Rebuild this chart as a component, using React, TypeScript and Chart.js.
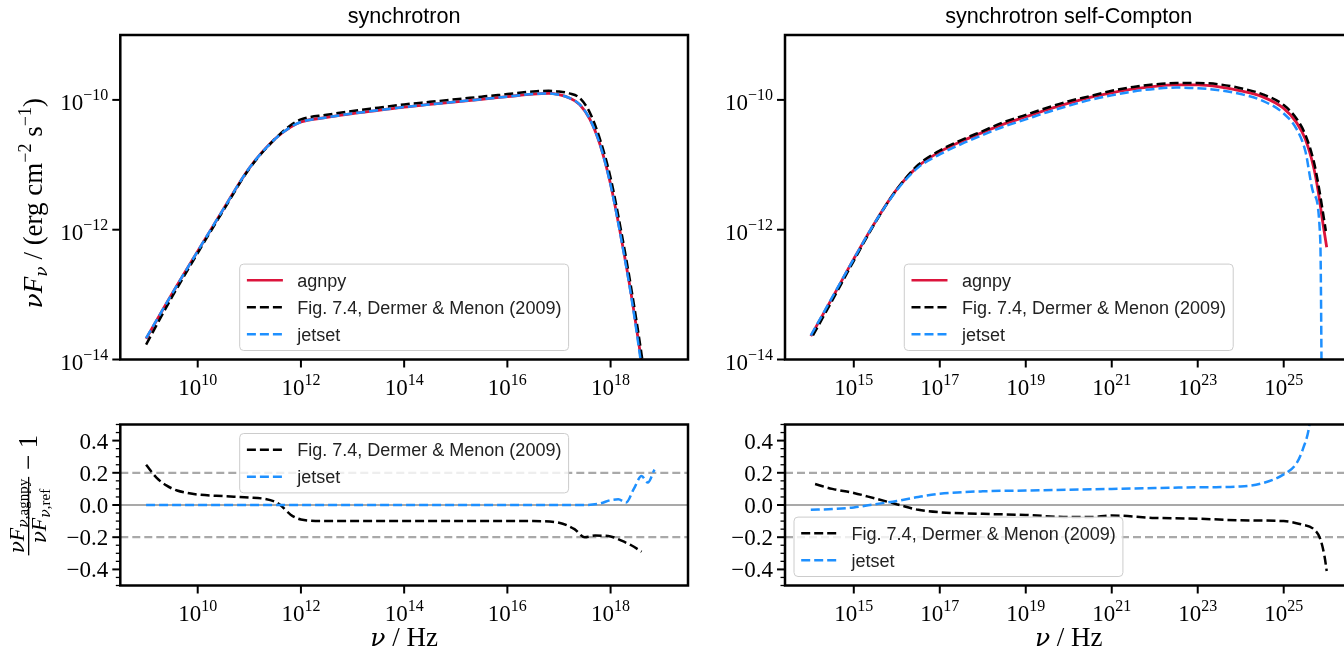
import React, { useEffect, useRef } from "react";
import { Chart, registerables } from "chart.js";
Chart.register(...registerables);

const CW = 1400;
const CH = 652;
const SERIF = '"Liberation Serif", "DejaVu Serif", serif';
const GREEK = '"DejaVu Serif", "Liberation Serif", serif';
const SANS = '"Liberation Sans", "DejaVu Sans", Arial, sans-serif';
const RED = "#dc143c";
const BLUE = "#1e90ff";
const BLACK = "#000000";
const GRAY = "#a9a9a9";

const LBL_AGNPY = "agnpy";
const LBL_DM = "Fig. 7.4, Dermer & Menon (2009)";
const LBL_JET = "jetset";

// ---- synchrotron SED (log10 nu [Hz], log10 nuFnu [erg cm-2 s-1]) ----
const synLogNu = [9.0, 9.5, 10.0, 10.5, 11.0, 11.5, 11.8, 12.0, 12.5, 13.0, 13.5, 14.0, 14.5, 15.0, 15.5, 16.0, 16.5, 16.8, 17.0, 17.2, 17.4, 17.6, 17.8, 18.0, 18.2, 18.4, 18.6, 18.8];
const synAgnpy = [-13.68, -12.99, -12.33, -11.68, -11.05, -10.6, -10.42, -10.34, -10.27, -10.21, -10.16, -10.11, -10.07, -10.03, -9.99, -9.95, -9.91, -9.9, -9.92, -9.97, -10.07, -10.3, -10.7, -11.3, -12.1, -13.0, -14.05, -15.3];
const synDermer = [-13.77, -13.04, -12.36, -11.7, -11.06, -10.6, -10.39, -10.3, -10.23, -10.17, -10.12, -10.07, -10.03, -9.99, -9.95, -9.91, -9.87, -9.86, -9.87, -9.9, -9.97, -10.2, -10.62, -11.2, -12.0, -12.9, -13.92, -15.1];
const synJetset = [-13.67, -12.99, -12.33, -11.68, -11.05, -10.6, -10.42, -10.34, -10.27, -10.21, -10.16, -10.11, -10.07, -10.03, -9.99, -9.95, -9.91, -9.9, -9.92, -9.97, -10.07, -10.3, -10.7, -11.31, -12.12, -13.03, -14.12, -15.4];

// ---- SSC SED ----
const sscLogNu = [14.0, 14.5, 15.0, 15.5, 16.0, 16.5, 17.0, 17.5, 18.0, 18.5, 19.0, 19.5, 20.0, 20.5, 21.0, 21.5, 22.0, 22.5, 23.0, 23.5, 24.0, 24.5, 25.0, 25.3, 25.5, 25.7, 25.8, 25.9, 26.0];
const sscAgnpy = [-13.64, -13.05, -12.45, -11.88, -11.38, -11.02, -10.8, -10.64, -10.5, -10.37, -10.26, -10.15, -10.05, -9.96, -9.89, -9.83, -9.79, -9.77, -9.77, -9.8, -9.86, -9.95, -10.13, -10.35, -10.6, -11.05, -11.4, -11.85, -12.27];
const sscDermerLogNu = [14.05, 14.5, 15.0, 15.5, 16.0, 16.5, 17.0, 17.5, 18.0, 18.5, 19.0, 19.5, 20.0, 20.5, 21.0, 21.5, 22.0, 22.5, 23.0, 23.5, 24.0, 24.5, 25.0, 25.3, 25.5, 25.7, 25.8, 25.9, 25.98];
const sscDermer = [-13.63, -13.09, -12.48, -11.89, -11.38, -11.0, -10.78, -10.62, -10.48, -10.34, -10.23, -10.12, -10.02, -9.94, -9.86, -9.8, -9.76, -9.74, -9.74, -9.76, -9.82, -9.91, -10.08, -10.29, -10.53, -10.95, -11.28, -11.68, -12.02];
const sscJetsetLogNu = [14.0, 14.5, 15.0, 15.5, 16.0, 16.5, 17.0, 17.5, 18.0, 18.5, 19.0, 19.5, 20.0, 20.5, 21.0, 21.5, 22.0, 22.5, 23.0, 23.5, 24.0, 24.5, 25.0, 25.3, 25.5, 25.7, 25.85, 25.9];
const sscJetset = [-13.63, -13.04, -12.45, -11.88, -11.39, -11.04, -10.84, -10.68, -10.54, -10.41, -10.3, -10.19, -10.09, -10.0, -9.93, -9.87, -9.83, -9.81, -9.82, -9.85, -9.91, -10.01, -10.21, -10.45, -10.78, -11.45, -12.15, -16.0];

// ---- residuals (agnpy / ref - 1) ----
const resSynDermerLogNu = [9.0, 9.2, 9.4, 9.6, 9.8, 10.0, 10.5, 11.0, 11.3, 11.5, 11.6, 11.8, 12.0, 12.5, 13.0, 14.0, 15.0, 16.0, 16.5, 17.0, 17.3, 17.5, 17.7, 18.0, 18.2, 18.4, 18.6];
const resSynDermer = [0.25, 0.17, 0.12, 0.09, 0.075, 0.065, 0.055, 0.047, 0.038, 0.02, 0.0, -0.06, -0.09, -0.1, -0.1, -0.1, -0.1, -0.1, -0.1, -0.11, -0.15, -0.2, -0.19, -0.195, -0.22, -0.25, -0.29];
const resSynJetsetLogNu = [9.0, 10.0, 11.0, 12.0, 13.0, 14.0, 15.0, 16.0, 17.0, 17.5, 17.8, 18.0, 18.15, 18.3, 18.45, 18.6, 18.72, 18.85];
const resSynJetset = [0, 0, 0, 0, 0, 0, 0, 0, 0, 0.0, 0.01, 0.03, 0.035, 0.015, 0.1, 0.18, 0.14, 0.22];

const resSscDermerLogNu = [14.1, 14.5, 15.0, 15.5, 16.0, 16.5, 17.0, 18.0, 19.0, 20.0, 20.5, 21.0, 22.0, 23.0, 24.0, 25.0, 25.4, 25.7, 25.85, 25.95, 26.0];
const resSscDermer = [0.13, 0.1, 0.075, 0.04, 0.005, -0.03, -0.045, -0.055, -0.062, -0.075, -0.075, -0.065, -0.08, -0.085, -0.095, -0.1, -0.12, -0.15, -0.21, -0.32, -0.41];
const resSscJetsetLogNu = [14.0, 14.5, 15.0, 15.5, 16.0, 16.5, 17.0, 18.0, 19.0, 20.0, 21.0, 22.0, 23.0, 24.0, 24.5, 25.0, 25.3, 25.45, 25.6, 25.7];
const resSscJetset = [-0.03, -0.025, -0.015, 0.005, 0.025, 0.05, 0.07, 0.085, 0.09, 0.095, 0.1, 0.105, 0.11, 0.115, 0.135, 0.19, 0.26, 0.35, 0.5, 0.75];

const refLevels = [0, 0.2, -0.2];

// ---- axes ----
const synXRange = [8.5, 19.5];
const sscXRange = [13.4, 26.6];
const sedYRange = [-14, -9];
const resYRange = [-0.5, 0.5];
const synXTicks = [10, 12, 14, 16, 18];
const sscXTicks = [15, 17, 19, 21, 23, 25];
const sedYTicks = [-10, -12, -14];
const resYTicks = [0.4, 0.2, 0.0, -0.2, -0.4];
const resYMinor = [0.5, 0.45, 0.35, 0.3, 0.25, 0.15, 0.1, 0.05, -0.05, -0.1, -0.15, -0.25, -0.3, -0.35, -0.45, -0.5];

type Seg = { t: string; size: number; dy?: number; italic?: boolean; family?: string };

function segFont(s: Seg) {
  return `${s.italic ? "italic " : ""}${s.size}px ${s.family || SERIF}`;
}
function richWidth(ctx: CanvasRenderingContext2D, segs: Seg[]) {
  let w = 0;
  for (const s of segs) {
    ctx.font = segFont(s);
    w += ctx.measureText(s.t).width;
  }
  return w;
}
function drawRich(ctx: CanvasRenderingContext2D, segs: Seg[], x: number, y: number, align: "left" | "center" | "right") {
  const w = richWidth(ctx, segs);
  let cx = align === "left" ? x : align === "center" ? x - w / 2 : x - w;
  ctx.textAlign = "left";
  ctx.textBaseline = "alphabetic";
  for (const s of segs) {
    ctx.font = segFont(s);
    ctx.fillText(s.t, cx, y + (s.dy || 0));
    cx += ctx.measureText(s.t).width;
  }
  return w;
}
function minus(n: number, digits = 0) {
  const s = Math.abs(n).toFixed(digits);
  return n < 0 ? "\u2212" + s : s;
}
function powLabel(e: number): Seg[] {
  return [
    { t: "10", size: 23 },
    { t: minus(e), size: 16, dy: -10 },
  ];
}

type LegendEntry = { label: string; color: string; dash: number[] };
type PanelCfg = {
  area: { l: number; r: number; t: number; b: number };
  xRange: number[];
  yRange: number[];
  yLog: boolean;
  xTicks: number[];
  yTicks: number[];
  yMinor?: number[];
  title?: string;
  ylabel?: "sed" | "res";
  xlabel?: boolean;
  legend: { entries: LegendEntry[]; pos: "lower center" | "upper center" | "lower left" };
  datasets: any[];
};

function drawLegend(ctx: CanvasRenderingContext2D, cfg: PanelCfg) {
  const f = 18;
  const { l, r, t, b } = cfg.area;
  const entries = cfg.legend.entries;
  ctx.font = `${f}px ${SANS}`;
  let tw = 0;
  for (const e of entries) tw = Math.max(tw, ctx.measureText(e.label).width);
  const w = 0.4 * f + 2 * f + 0.8 * f + tw + 0.4 * f;
  const h = 0.8 * f + entries.length * f + (entries.length - 1) * 0.5 * f;
  let left = 0;
  let top = 0;
  if (cfg.legend.pos === "lower center") {
    left = (l + r) / 2 - w / 2;
    top = b - 0.5 * f - h;
  } else if (cfg.legend.pos === "upper center") {
    left = (l + r) / 2 - w / 2;
    top = t + 0.5 * f;
  } else {
    left = l + 0.5 * f;
    top = b - 0.5 * f - h;
  }
  const rad = 4;
  ctx.save();
  ctx.beginPath();
  ctx.roundRect(left, top, w, h, rad);
  ctx.fillStyle = "rgba(255,255,255,0.8)";
  ctx.fill();
  ctx.lineWidth = 1;
  ctx.strokeStyle = "#cccccc";
  ctx.stroke();
  entries.forEach((e, i) => {
    const cy = top + 0.4 * f + f / 2 + i * 1.5 * f;
    const x0 = left + 0.4 * f;
    ctx.beginPath();
    ctx.setLineDash(e.dash);
    ctx.strokeStyle = e.color;
    ctx.lineWidth = 2.5;
    ctx.moveTo(x0, cy);
    ctx.lineTo(x0 + 2 * f, cy);
    ctx.stroke();
    ctx.setLineDash([]);
    ctx.fillStyle = "#222";
    ctx.font = `${f}px ${SANS}`;
    ctx.textAlign = "left";
    ctx.textBaseline = "alphabetic";
    ctx.fillText(e.label, x0 + 2.8 * f, cy + 6.5);
  });
  ctx.restore();
}

function makePlugin(cfg: PanelCfg) {
  return {
    id: "panelDecor",
    afterDraw(chart: any) {
      const ctx: CanvasRenderingContext2D = chart.ctx;
      const xs = chart.scales.x;
      const ys = chart.scales.y;
      const { l, r, t, b } = cfg.area;
      ctx.save();
      ctx.fillStyle = "#000";
      ctx.strokeStyle = "#000";
      // x ticks
      ctx.lineWidth = 2;
      for (const e of cfg.xTicks) {
        const px = xs.getPixelForValue(Math.pow(10, e));
        ctx.beginPath();
        ctx.moveTo(px, b);
        ctx.lineTo(px, b + 8);
        ctx.stroke();
        drawRich(ctx, powLabel(e), px, b + 35, "center");
      }
      // y ticks
      for (const v of cfg.yTicks) {
        const py = ys.getPixelForValue(cfg.yLog ? Math.pow(10, v) : v);
        ctx.lineWidth = 2;
        ctx.beginPath();
        ctx.moveTo(l - 8, py);
        ctx.lineTo(l, py);
        ctx.stroke();
        if (cfg.yLog) {
          drawRich(ctx, powLabel(v), l - 12, py + 10.5, "right");
        } else {
          drawRich(ctx, [{ t: minus(v, 1), size: 23 }], l - 12, py + 8, "right");
        }
      }
      if (cfg.yMinor) {
        ctx.lineWidth = 1.3;
        for (const v of cfg.yMinor) {
          const py = ys.getPixelForValue(v);
          ctx.beginPath();
          ctx.moveTo(l - 4.5, py);
          ctx.lineTo(l, py);
          ctx.stroke();
        }
      }
      // frame
      ctx.lineWidth = 2.5;
      ctx.strokeRect(l, t, r - l, b - t);
      // title
      if (cfg.title) {
        ctx.font = `21.6px ${SANS}`;
        ctx.textAlign = "center";
        ctx.textBaseline = "alphabetic";
        ctx.fillStyle = "#000";
        ctx.fillText(cfg.title, (l + r) / 2, t - 12);
      }
      // x label
      if (cfg.xlabel) {
        drawRich(
          ctx,
          [
            { t: "\u03bd", size: 25, italic: true, family: GREEK },
            { t: " / Hz", size: 27 },
          ],
          (l + r) / 2,
          646,
          "center"
        );
      }
      // y labels
      if (cfg.ylabel === "sed") {
        ctx.save();
        ctx.translate(33, (t + b) / 2 + 6);
        ctx.rotate(-Math.PI / 2);
        drawRich(
          ctx,
          [
            { t: "\u03bd", size: 25, italic: true, family: GREEK },
            { t: "F", size: 27, italic: true },
            { t: "\u03bd", size: 17, italic: true, dy: 5, family: GREEK },
            { t: " / (erg cm", size: 27 },
            { t: "\u22122", size: 18, dy: -11 },
            { t: " s", size: 27 },
            { t: "\u22121", size: 18, dy: -11 },
            { t: ")", size: 27 },
          ],
          0,
          9,
          "center"
        );
        ctx.restore();
      } else if (cfg.ylabel === "res") {
        ctx.save();
        ctx.translate(29, (t + b) / 2 - 10);
        ctx.rotate(-Math.PI / 2);
        const num: Seg[] = [
          { t: "\u03bd", size: 20, italic: true, family: GREEK },
          { t: "F", size: 22, italic: true },
          { t: "\u03bd", size: 14, italic: true, dy: 4, family: GREEK },
          { t: ",agnpy", size: 15, dy: 4 },
        ];
        const den: Seg[] = [
          { t: "\u03bd", size: 20, italic: true, family: GREEK },
          { t: "F", size: 22, italic: true },
          { t: "\u03bd", size: 14, italic: true, dy: 4, family: GREEK },
          { t: ",ref", size: 15, dy: 4 },
        ];
        const tail: Seg[] = [{ t: " \u2212 1", size: 27 }];
        const fw = Math.max(richWidth(ctx, num), richWidth(ctx, den)) + 4;
        const tw = richWidth(ctx, tail);
        const x0 = -(fw + tw) / 2;
        drawRich(ctx, num, x0 + fw / 2, -5, "center");
        drawRich(ctx, den, x0 + fw / 2, 17, "center");
        ctx.fillRect(x0, -1, fw, 1.3);
        drawRich(ctx, tail, x0 + fw, 8, "left");
        ctx.restore();
      }
      drawLegend(ctx, cfg);
      ctx.restore();
    },
  };
}

function pts(lx: number[], vals: number[], logY: boolean) {
  return lx.map((v, i) => ({ x: Math.pow(10, v), y: logY ? Math.pow(10, vals[i]) : vals[i] }));
}

function line(data: any[], color: string, dash: number[], order: number, width = 2.5) {
  return {
    data,
    borderColor: color,
    borderWidth: width,
    borderDash: dash,
    fill: false,
    pointRadius: 0,
    cubicInterpolationMode: "monotone",
    order,
    clip: 0,
  };
}

const DASH = [9, 4];
const entries3: LegendEntry[] = [
  { label: LBL_AGNPY, color: RED, dash: [] },
  { label: LBL_DM, color: BLACK, dash: DASH },
  { label: LBL_JET, color: BLUE, dash: DASH },
];
const entries2: LegendEntry[] = [
  { label: LBL_DM, color: BLACK, dash: DASH },
  { label: LBL_JET, color: BLUE, dash: DASH },
];

function refLines(xr: number[]) {
  return refLevels.map((lv) =>
    line(
      [
        { x: Math.pow(10, xr[0]), y: lv },
        { x: Math.pow(10, xr[1]), y: lv },
      ],
      GRAY,
      lv === 0 ? [] : [8, 4],
      10,
      2.2
    )
  );
}

const TOP_L = { l: 120.3, r: 688, t: 35, b: 359.5 };
const TOP_R = { l: 785, r: 1352.5, t: 35, b: 359.5 };
const BOT_L = { l: 120.3, r: 688, t: 424.5, b: 585.5 };
const BOT_R = { l: 785, r: 1352.5, t: 424.5, b: 585.5 };

const panels: PanelCfg[] = [
  {
    area: TOP_L,
    xRange: synXRange,
    yRange: sedYRange,
    yLog: true,
    xTicks: synXTicks,
    yTicks: sedYTicks,
    title: "synchrotron",
    ylabel: "sed",
    legend: { entries: entries3, pos: "lower center" },
    datasets: [
      line(pts(synLogNu, synJetset, true), BLUE, DASH, 0),
      line(pts(synLogNu, synDermer, true), BLACK, DASH, 1),
      line(pts(synLogNu, synAgnpy, true), RED, [], 2, 2.8),
    ],
  },
  {
    area: TOP_R,
    xRange: sscXRange,
    yRange: sedYRange,
    yLog: true,
    xTicks: sscXTicks,
    yTicks: sedYTicks,
    title: "synchrotron self-Compton",
    legend: { entries: entries3, pos: "lower center" },
    datasets: [
      line(pts(sscJetsetLogNu, sscJetset, true), BLUE, DASH, 0),
      line(pts(sscDermerLogNu, sscDermer, true), BLACK, DASH, 1),
      line(pts(sscLogNu, sscAgnpy, true), RED, [], 2, 2.8),
    ],
  },
  {
    area: BOT_L,
    xRange: synXRange,
    yRange: resYRange,
    yLog: false,
    xTicks: synXTicks,
    yTicks: resYTicks,
    yMinor: resYMinor,
    ylabel: "res",
    xlabel: true,
    legend: { entries: entries2, pos: "upper center" },
    datasets: [
      line(pts(resSynJetsetLogNu, resSynJetset, false), BLUE, DASH, 0),
      line(pts(resSynDermerLogNu, resSynDermer, false), BLACK, DASH, 1),
      ...refLines(synXRange),
    ],
  },
  {
    area: BOT_R,
    xRange: sscXRange,
    yRange: resYRange,
    yLog: false,
    xTicks: sscXTicks,
    yTicks: resYTicks,
    yMinor: resYMinor,
    xlabel: true,
    legend: { entries: entries2, pos: "lower left" },
    datasets: [
      line(pts(resSscJetsetLogNu, resSscJetset, false), BLUE, DASH, 0),
      line(pts(resSscDermerLogNu, resSscDermer, false), BLACK, DASH, 1),
      ...refLines(sscXRange),
    ],
  },
];

function Panel({ cfg }: { cfg: PanelCfg }) {
  const ref = useRef<HTMLCanvasElement>(null);
  useEffect(() => {
    const a = cfg.area;
    const chart = new Chart(ref.current as HTMLCanvasElement, {
      type: "line",
      data: { datasets: cfg.datasets },
      options: {
        responsive: false,
        animation: false,
        devicePixelRatio: 1,
        events: [],
        layout: { padding: { left: a.l, top: a.t, right: CW - a.r, bottom: CH - a.b } },
        plugins: { legend: { display: false }, tooltip: { enabled: false }, title: { display: false } },
        scales: {
          x: {
            type: "logarithmic",
            display: false,
            bounds: "data",
            min: Math.pow(10, cfg.xRange[0]),
            max: Math.pow(10, cfg.xRange[1]),
          },
          y: cfg.yLog
            ? {
                type: "logarithmic",
                display: false,
                bounds: "data",
                min: Math.pow(10, cfg.yRange[0]),
                max: Math.pow(10, cfg.yRange[1]),
              }
            : { type: "linear", display: false, bounds: "data", min: cfg.yRange[0], max: cfg.yRange[1] },
        },
      } as any,
      plugins: [makePlugin(cfg)],
    } as any);
    return () => chart.destroy();
  }, [cfg]);
  return (
    <canvas
      ref={ref}
      width={CW}
      height={CH}
      style={{ position: "absolute", left: 0, top: 0, width: CW, height: CH }}
    />
  );
}

export default function App() {
  return (
    <div
      style={{
        position: "fixed",
        left: 0,
        top: 0,
        width: 1344,
        height: 652,
        overflow: "hidden",
        background: "#ffffff",
      }}
    >
      {panels.map((p, i) => (
        <Panel key={i} cfg={p} />
      ))}
    </div>
  );
}
